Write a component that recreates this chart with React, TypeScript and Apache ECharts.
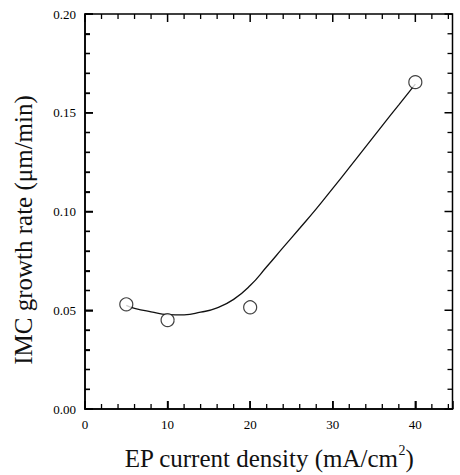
import React, { useEffect, useRef } from "react";
import * as echarts from "echarts";

const pointX = [5, 10, 20, 40];
const pointY = [0.053, 0.045, 0.0515, 0.1655];

const curveX = [5, 6, 8, 10, 12, 14, 16, 18, 20, 22, 24, 26, 28, 30, 32, 34, 36, 38, 40];
const curveY = [0.0525, 0.051, 0.0492, 0.0478, 0.0477, 0.049, 0.0512, 0.0555, 0.0625, 0.072, 0.0818, 0.0915, 0.1013, 0.1117, 0.1222, 0.1328, 0.1435, 0.154, 0.1645];

const xMajorTicks = [0, 10, 20, 30, 40];
const xMinorTicks = [2, 4, 6, 8, 12, 14, 16, 18, 22, 24, 26, 28, 32, 34, 36, 38, 42, 44];
const yMajorTicks = [0, 0.05, 0.1, 0.15, 0.2];
const yMinorTicks = [0.01, 0.02, 0.03, 0.04, 0.06, 0.07, 0.08, 0.09, 0.11, 0.12, 0.13, 0.14, 0.16, 0.17, 0.18, 0.19];

const X_MIN = 0;
const X_MAX = 44.5;
const Y_MIN = 0;
const Y_MAX = 0.2;

const xTitle = "EP current density (mA/cm";
const yTitle = "IMC growth rate (\u03bcm/min)";

const FONT = "'Liberation Serif', 'Times New Roman', serif";

export default function App() {
  const ref = useRef<HTMLDivElement>(null);
  useEffect(() => {
    if (!ref.current) return;
    const chart = echarts.init(ref.current, undefined, { renderer: "svg" });
    const frameLine = { show: true, onZero: false, lineStyle: { color: "#000", width: 1.5 } };

    const titles: any[] = [
      {
        id: "xtitle",
        type: "text",
        x: 269,
        y: 458,
        style: {
          text: "{a|" + xTitle + "}{s|2}{a|)}",
          align: "center",
          verticalAlign: "middle",
          fill: "#111",
          rich: {
            a: { fontFamily: FONT, fontSize: 25, fill: "#111", lineHeight: 30 },
            s: { fontFamily: FONT, fontSize: 14, fill: "#111", verticalAlign: "top", lineHeight: 30 },
          },
        },
      },
      {
        id: "ytitle",
        type: "text",
        x: 23,
        y: 230,
        rotation: Math.PI / 2,
        style: {
          text: yTitle,
          align: "center",
          verticalAlign: "middle",
          fill: "#111",
          fontFamily: FONT,
          fontSize: 25,
        },
      },
    ];

    const option = {
      animation: false,
      grid: {
        left: 85,
        right: 7.5,
        top: 14,
        bottom: 66,
        show: true,
        borderColor: "#000",
        borderWidth: 1.5,
        backgroundColor: "transparent",
      },
      xAxis: {
        type: "value",
        min: X_MIN,
        max: X_MAX,
        interval: 10,
        axisLine: frameLine,
        axisTick: { show: true, inside: true, length: 8, lineStyle: { color: "#000", width: 1.5 } },
        splitLine: { show: false },
        axisLabel: {
          color: "#000",
          fontFamily: FONT,
          fontSize: 13,
          margin: 9,
          formatter: (v: number) => (xMajorTicks.indexOf(v) >= 0 ? String(v) : ""),
        },
      },
      yAxis: {
        type: "value",
        min: Y_MIN,
        max: Y_MAX,
        interval: 0.05,
        axisLine: frameLine,
        axisTick: { show: true, inside: true, length: 8, lineStyle: { color: "#000", width: 1.5 } },
        minorTick: { show: true, splitNumber: 5, length: 5, lineStyle: { color: "#000", width: 1.3 } },
        splitLine: { show: false },
        minorSplitLine: { show: false },
        axisLabel: {
          color: "#000",
          fontFamily: FONT,
          fontSize: 13,
          margin: 9,
          formatter: (v: number) => v.toFixed(2),
        },
      },
      graphic: titles,
      series: [
        {
          type: "line",
          data: curveX.map((x, i) => [x, curveY[i]]),
          smooth: true,
          showSymbol: false,
          lineStyle: { color: "#111", width: 1.3 },
          z: 2,
        },
        {
          type: "scatter",
          data: pointX.map((x, i) => [x, pointY[i]]),
          symbol: "circle",
          symbolSize: 13,
          itemStyle: { color: "#fff", borderColor: "#111", borderWidth: 1.2 },
          z: 3,
        },
      ],
    };
    chart.setOption(option as any);

    // inward tick marks on all four sides, placed through the chart's own scales
    const px = (a: number, b: number) => chart.convertToPixel({ xAxisIndex: 0, yAxisIndex: 0 } as any, [a, b]) as number[];
    const ticks: any[] = [];
    const addX = (v: number, len: number, w: number) => {
      const b = px(v, Y_MIN);
      const t = px(v, Y_MAX);
      if (!b || !t) return;
      const style = { stroke: "#000", lineWidth: w };
      ticks.push({ type: "line", silent: true, z: 100, shape: { x1: b[0], y1: b[1], x2: b[0], y2: b[1] - len }, style });
      ticks.push({ type: "line", silent: true, z: 100, shape: { x1: t[0], y1: t[1], x2: t[0], y2: t[1] + len }, style });
    };
    const addY = (v: number, len: number, w: number) => {
      const l = px(X_MIN, v);
      const r = px(X_MAX, v);
      if (!l || !r) return;
      const style = { stroke: "#000", lineWidth: w };
      ticks.push({ type: "line", silent: true, z: 100, shape: { x1: l[0], y1: l[1], x2: l[0] + len, y2: l[1] }, style });
      ticks.push({ type: "line", silent: true, z: 100, shape: { x1: r[0], y1: r[1], x2: r[0] - len, y2: r[1] }, style });
    };
    xMinorTicks.forEach((v) => addX(v, 5, 1.3));
    xMajorTicks.forEach((v) => addX(v, 8, 1.5));
    yMinorTicks.forEach((v) => addY(v, 5, 1.3));
    yMajorTicks.forEach((v) => addY(v, 8, 1.5));
    chart.setOption({ graphic: { elements: [...titles, ...ticks] } } as any);

    return () => chart.dispose();
  }, []);
  return <div ref={ref} style={{ width: 460, height: 475, position: "absolute", left: 0, top: 0 }} />;
}
